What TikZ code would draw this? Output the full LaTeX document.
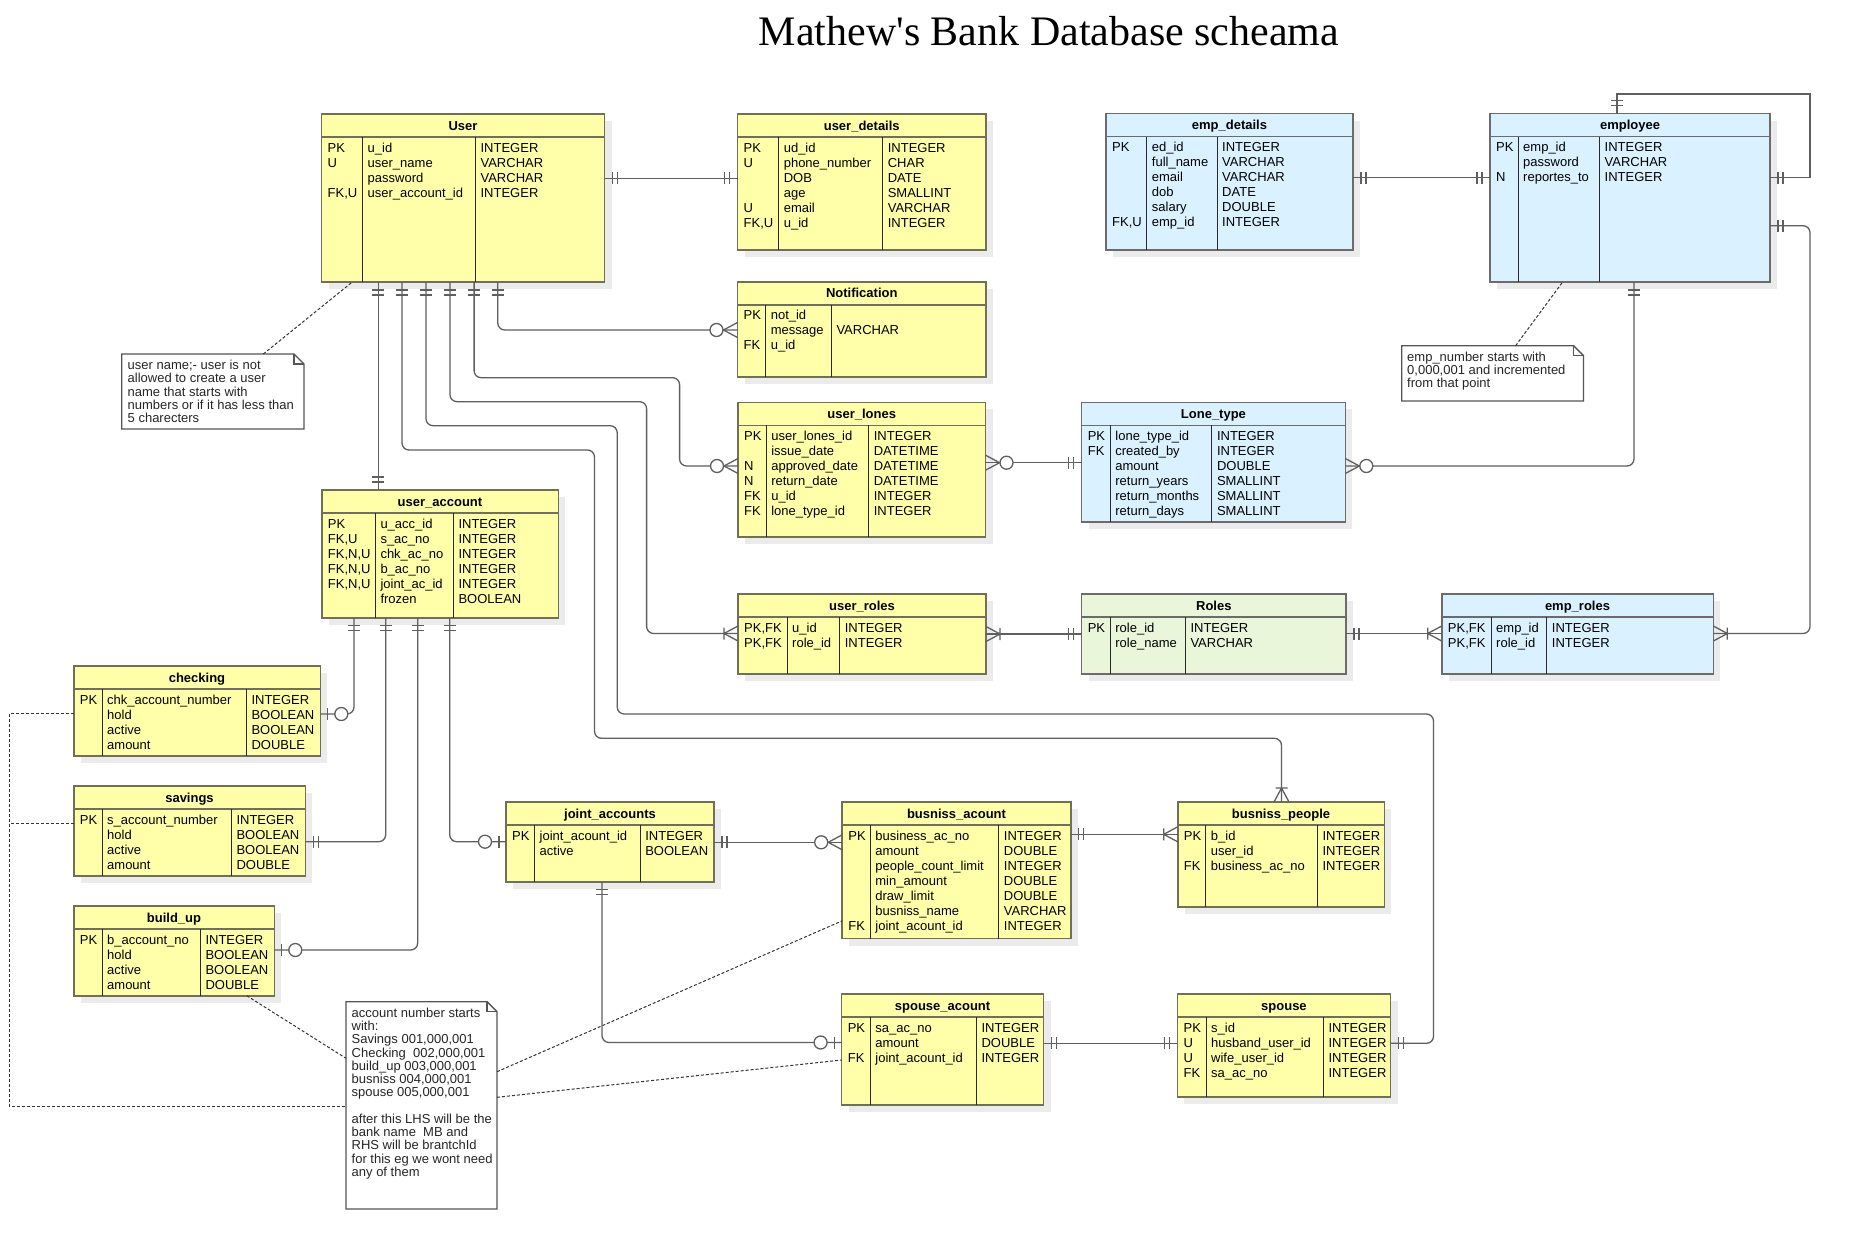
\documentclass[tikz,border=0pt]{standalone}
\usepackage{fontspec}
\setmainfont{Liberation Sans}
\newfontfamily\titlefont{Liberation Serif}
\usetikzlibrary{calc}
\definecolor{yfill}{HTML}{FFFFAA}
\definecolor{ybord}{HTML}{707058}
\definecolor{bfill}{HTML}{DAF2FF}
\definecolor{bbord}{HTML}{6B6B6B}
\definecolor{gfill}{HTML}{E9F6DA}
\definecolor{gbord}{HTML}{6B6B6B}
\definecolor{linec}{HTML}{5F5F5F}
\definecolor{divc}{HTML}{2A2A2A}
\definecolor{shadowc}{HTML}{EBEBEB}
\definecolor{notec}{HTML}{555555}

\newcommand\ertable[9]{%
  \fill[shadowc] (#3+7,#4+7) rectangle (#5+7,#6+7);
  \node[#2, tablebox, anchor=north west, minimum width=#5-#3, minimum height=#6-#4] (#1) at (#3,#4) {};
  \draw[#2, fill=none, line width=1.6pt] (#3,#4+23) -- (#5,#4+23);
  \draw[divline] (#7,#4+23) -- (#7,#6) (#8,#4+23) -- (#8,#6);
  \node[headtext, anchor=base] (#1-h) at ({(#3+#5)/2},#4+16.2) {#9};
}
\newcommand\ercols[8]{%
  \node[coltext] (#1-c1) at (#2+6,#3+27.5) {\begin{tabular}{@{}l@{}}#6\end{tabular}};
  \node[coltext] (#1-c2) at (#4+5,#3+27.5) {\begin{tabular}{@{}l@{}}#7\end{tabular}};
  \node[coltext] (#1-c3) at (#5+5,#3+27.5) {\begin{tabular}{@{}l@{}}#8\end{tabular}};
}
\newcommand\mOne[2]{\begin{scope}[shift={(#1)},rotate=#2]\draw[conn] (8,-6)--(8,6) (13,-6)--(13,6);\end{scope}}
\newcommand\oMany[2]{\begin{scope}[shift={(#1)},rotate=#2]\draw[conn] (0,-7.5)--(14,0)--(0,7.5) (14,-6)--(14,6);\end{scope}}
\newcommand\zMany[2]{\begin{scope}[shift={(#1)},rotate=#2]\draw[conn] (0,-7.5)--(14,0)--(0,7.5);\draw[conn,fill=white] (21,0) circle[radius=6.5];\end{scope}}
\newcommand\zOne[2]{\begin{scope}[shift={(#1)},rotate=#2]\draw[conn] (7,-6)--(7,6);\draw[conn,fill=white] (21,0) circle[radius=6.5];\end{scope}}

\begin{document}
\begin{tikzpicture}[x=1pt,y=-1pt,
  ybox/.style={fill=yfill,draw=ybord},
  bbox/.style={fill=bfill,draw=bbord},
  gbox/.style={fill=gfill,draw=gbord},
  tablebox/.style={line width=1.6pt,inner sep=0pt,outer sep=0pt},
  divline/.style={draw=divc,line width=1pt},
  headtext/.style={inner sep=0pt,font=\bfseries\fontsize{13}{15}\selectfont},
  coltext/.style={anchor=north west,inner sep=0pt,font=\fontsize{13}{15}\selectfont},
  conn/.style={draw=linec,line width=1.3pt},
  dashc/.style={draw=black!80,line width=1pt,dash pattern=on 3pt off 2pt},
  notebox/.style={anchor=north west,inner sep=0pt,outer sep=0pt},
  noteline/.style={draw=notec,line width=1.4pt,fill=white},
  notetext/.style={anchor=north west,inner sep=0pt,font=\fontsize{13}{13}\selectfont,text=black!85}]
\useasboundingbox (0,0) rectangle (1851,1250);
\fill[white] (0,0) rectangle (1851,1250);

\node[anchor=base,inner sep=0pt,font=\titlefont\fontsize{42}{48}\selectfont] (title) at (1049,45) {Mathew\textquotesingle s Bank Database scheama};

% ---------------- tables ----------------
\ertable{User}{ybox}{321.5}{114}{604.5}{282}{362.5}{475.4}{User}
\ercols{User}{321.5}{114}{362.5}{475.4}{PK\\U\\\\FK,U}{u\_id\\user\_name\\password\\user\_account\_id}{INTEGER\\VARCHAR\\VARCHAR\\INTEGER}

\ertable{ud}{ybox}{737.5}{114}{986}{250}{778.6}{882.6}{user\_details}
\ercols{ud}{737.5}{114}{778.6}{882.6}{PK\\U\\\\\\U\\FK,U}{ud\_id\\phone\_number\\DOB\\age\\email\\u\_id}{INTEGER\\CHAR\\DATE\\SMALLINT\\VARCHAR\\INTEGER}

\ertable{notif}{ybox}{737.5}{281.7}{986}{376.7}{765.6}{831.3}{Notification}
\ercols{notif}{737.5}{281.7}{765.6}{831.3}{PK\\\\FK}{not\_id\\message\\u\_id}{\\VARCHAR}

\ertable{ed}{bbox}{1106}{113.5}{1353}{250}{1146.7}{1217}{emp\_details}
\ercols{ed}{1106}{113.5}{1146.7}{1217}{PK\\\\\\\\\\FK,U}{ed\_id\\full\_name\\email\\dob\\salary\\emp\_id}{INTEGER\\VARCHAR\\VARCHAR\\DATE\\DOUBLE\\INTEGER}

\ertable{emp}{bbox}{1490}{113.5}{1770}{282}{1518}{1599.5}{employee}
\ercols{emp}{1490}{113.5}{1518}{1599.5}{PK\\\\N}{emp\_id\\password\\reportes\_to}{INTEGER\\VARCHAR\\INTEGER}

\ertable{ul}{ybox}{738}{402.3}{985.5}{536.7}{766.1}{868.6}{user\_lones}
\ercols{ul}{738}{402.3}{766.1}{868.6}{PK\\\\N\\N\\FK\\FK}{user\_lones\_id\\issue\_date\\approved\_date\\return\_date\\u\_id\\lone\_type\_id}{INTEGER\\DATETIME\\DATETIME\\DATETIME\\INTEGER\\INTEGER}

\ertable{lt}{bbox}{1081.6}{402.3}{1345.3}{522}{1110.2}{1211.8}{Lone\_type}
\ercols{lt}{1081.6}{402.3}{1110.2}{1211.8}{PK\\FK}{lone\_type\_id\\created\_by\\amount\\return\_years\\return\_months\\return\_days}{INTEGER\\INTEGER\\DOUBLE\\SMALLINT\\SMALLINT\\SMALLINT}

\ertable{ua}{ybox}{321.7}{490}{558.3}{617.7}{375.3}{453.3}{user\_account}
\ercols{ua}{321.7}{490}{375.3}{453.3}{PK\\FK,U\\FK,N,U\\FK,N,U\\FK,N,U}{u\_acc\_id\\s\_ac\_no\\chk\_ac\_no\\b\_ac\_no\\joint\_ac\_id\\frozen}{INTEGER\\INTEGER\\INTEGER\\INTEGER\\INTEGER\\BOOLEAN}

\ertable{ur}{ybox}{738}{594}{986}{674}{787}{839.6}{user\_roles}
\ercols{ur}{738}{594}{787}{839.6}{PK,FK\\PK,FK}{u\_id\\role\_id}{INTEGER\\INTEGER}

\ertable{ro}{gbox}{1081.6}{594}{1346}{674}{1110.2}{1185.3}{Roles}
\ercols{ro}{1081.6}{594}{1110.2}{1185.3}{PK}{role\_id\\role\_name}{INTEGER\\VARCHAR}

\ertable{er}{bbox}{1441.7}{594}{1713.3}{674}{1491}{1546.7}{emp\_roles}
\ercols{er}{1441.7}{594}{1491}{1546.7}{PK,FK\\PK,FK}{emp\_id\\role\_id}{INTEGER\\INTEGER}

\ertable{chk}{ybox}{73.7}{666}{320.3}{756}{102}{246.3}{checking}
\ercols{chk}{73.7}{666}{102}{246.3}{PK}{chk\_account\_number\\hold\\active\\amount}{INTEGER\\BOOLEAN\\BOOLEAN\\DOUBLE}

\ertable{sav}{ybox}{73.7}{786}{305.3}{876}{102}{231.3}{savings}
\ercols{sav}{73.7}{786}{102}{231.3}{PK}{s\_account\_number\\hold\\active\\amount}{INTEGER\\BOOLEAN\\BOOLEAN\\DOUBLE}

\ertable{bu}{ybox}{73.7}{906}{274.3}{995.7}{102}{200.3}{build\_up}
\ercols{bu}{73.7}{906}{102}{200.3}{PK}{b\_account\_no\\hold\\active\\amount}{INTEGER\\BOOLEAN\\BOOLEAN\\DOUBLE}

\ertable{ja}{ybox}{506}{802}{714}{881.7}{534.5}{640.1}{joint\_accounts}
\ercols{ja}{506}{802}{534.5}{640.1}{PK}{joint\_acount\_id\\active}{INTEGER\\BOOLEAN}

\ertable{ba}{ybox}{842.2}{802}{1070.8}{938.5}{870.2}{998.7}{busniss\_acount}
\ercols{ba}{842.2}{802}{870.2}{998.7}{PK\\\\\\\\\\\\FK}{business\_ac\_no\\amount\\people\_count\_limit\\min\_amount\\draw\_limit\\busniss\_name\\joint\_acount\_id}{INTEGER\\DOUBLE\\INTEGER\\DOUBLE\\DOUBLE\\VARCHAR\\INTEGER}

\ertable{bp}{ybox}{1177.7}{802}{1384.3}{906.7}{1205.7}{1317.3}{busniss\_people}
\ercols{bp}{1177.7}{802}{1205.7}{1317.3}{PK\\\\FK}{b\_id\\user\_id\\business\_ac\_no}{INTEGER\\INTEGER\\INTEGER}

\ertable{sa}{ybox}{841.6}{994}{1043.5}{1105}{870.2}{976.3}{spouse\_acount}
\ercols{sa}{841.6}{994}{870.2}{976.3}{PK\\\\FK}{sa\_ac\_no\\amount\\joint\_acount\_id}{INTEGER\\DOUBLE\\INTEGER}

\ertable{sp}{ybox}{1177.4}{994}{1390.5}{1096.7}{1206}{1323.4}{spouse}
\ercols{sp}{1177.4}{994}{1206}{1323.4}{PK\\U\\U\\FK}{s\_id\\husband\_user\_id\\wife\_user\_id\\sa\_ac\_no}{INTEGER\\INTEGER\\INTEGER\\INTEGER}

% ---------------- notes ----------------
\node[notebox,minimum width=182.3,minimum height=75] (n1) at (121.7,354) {};
\draw[noteline] (n1.north west) -- ([xshift=-10pt]n1.north east) -- ([yshift=-10pt]n1.north east) -- (n1.south east) -- (n1.south west) -- cycle;
\draw[noteline,fill=none] ([xshift=-10pt]n1.north east) -- ([xshift=-10pt,yshift=-10pt]n1.north east) -- ([yshift=-10pt]n1.north east);
\node[notetext] (n1-t) at (127.5,360) {\begin{tabular}{@{}l@{}}user name;- user is not\\allowed to create a user\\name that starts with\\numbers or if it has less than\\5 charecters\end{tabular}};

\node[notebox,minimum width=181.8,minimum height=55.3] (n2) at (1401.7,345.7) {};
\draw[noteline] (n2.north west) -- ([xshift=-10pt]n2.north east) -- ([yshift=-10pt]n2.north east) -- (n2.south east) -- (n2.south west) -- cycle;
\draw[noteline,fill=none] ([xshift=-10pt]n2.north east) -- ([xshift=-10pt,yshift=-10pt]n2.north east) -- ([yshift=-10pt]n2.north east);
\node[notetext] (n2-t) at (1407,351.5) {\begin{tabular}{@{}l@{}}emp\_number starts with\\0,000,001 and incremented\\from that point\end{tabular}};

\node[notebox,minimum width=151,minimum height=207.3] (n3) at (346,1001.7) {};
\draw[noteline] (n3.north west) -- ([xshift=-10pt]n3.north east) -- ([yshift=-10pt]n3.north east) -- (n3.south east) -- (n3.south west) -- cycle;
\draw[noteline,fill=none] ([xshift=-10pt]n3.north east) -- ([xshift=-10pt,yshift=-10pt]n3.north east) -- ([yshift=-10pt]n3.north east);
\node[notetext] (n3-t) at (351.5,1007.5) {\begin{tabular}{@{}l@{}}account number starts\\with:\\Savings 001,000,001\\Checking\ \ 002,000,001\\build\_up 003,000,001\\busniss 004,000,001\\spouse 005,000,001\\ \\after this LHS will be the\\bank name\ \ MB and\\RHS will be brantchId\\for this eg we wont need\\any of them\end{tabular}};

% ---------------- dashed note links ----------------
\draw[dashc] (n1.north -| 263.3,0) -- (User.south -| 352.3,0);
\draw[dashc] (n2.north -| 1515.6,0) -- (emp.south -| 1562.6,0);
\draw[dashc] (chk.west |- 0,713) -- (9.3,713) -- (9.3,1106) -- (n3.west |- 0,1106);
\draw[dashc] (sav.west |- 0,823.3) -- (9.3,823.3);
\draw[dashc] (bu.south -| 246.8,0) -- (n3.west |- 0,1058.3);
\draw[dashc] (n3.east |- 0,1071.7) -- (ba.west |- 0,920.8);
\draw[dashc] (n3.east |- 0,1097.3) -- (sa.west |- 0,1060);

% ---------------- relationships ----------------
% User - user_details
\coordinate (c1a) at (User.east |- 0,178.3);
\coordinate (c1b) at (ud.west |- 0,178.3);
\draw[conn] (c1a) -- (c1b);
\mOne{c1a}{0} \mOne{c1b}{180}
% User - Notification
\coordinate (c2a) at (User.south -| 497.8,0);
\coordinate (c2b) at (notif.west |- 0,330);
\draw[conn,rounded corners=7pt] (c2a) |- (c2b);
\mOne{c2a}{-90} \zMany{c2b}{180}
% User - user_lones
\coordinate (c3a) at (User.south -| 474.1,0);
\coordinate (c3b) at (ul.west |- 0,466);
\draw[conn,rounded corners=7pt] (c3a) |- (679.6,377.7) |- (c3b);
\mOne{c3a}{-90} \zMany{c3b}{180}
% User - user_roles
\coordinate (c4a) at (User.south -| 450,0);
\coordinate (c4b) at (ur.west |- 0,633.5);
\draw[conn,rounded corners=7pt] (c4a) |- (646.6,401.7) |- (c4b);
\mOne{c4a}{-90} \oMany{c4b}{180}
% User - spouse
\coordinate (c5a) at (User.south -| 426,0);
\coordinate (c5b) at (sp.east |- 0,1043.3);
\draw[conn,rounded corners=7pt] (c5a) |- (617.2,425.7) |- (1433.5,714) |- (c5b);
\mOne{c5a}{-90} \mOne{c5b}{0}
% User - busniss_people
\coordinate (c6a) at (User.south -| 402,0);
\coordinate (c6b) at (bp.north -| 1281.5,0);
\draw[conn,rounded corners=7pt] (c6a) |- (594.5,450) |- (1281.5,738.3) -- (c6b);
\mOne{c6a}{-90} \oMany{c6b}{90}
% User - user_account
\coordinate (c7a) at (User.south -| 378.2,0);
\coordinate (c7b) at (ua.north -| 378.2,0);
\draw[conn] (c7a) -- (c7b);
\mOne{c7a}{-90} \mOne{c7b}{90}
% emp_details - employee
\coordinate (c8a) at (ed.east |- 0,177.7);
\coordinate (c8b) at (emp.west |- 0,177.7);
\draw[conn] (c8a) -- (c8b);
\mOne{c8a}{0} \mOne{c8b}{180}
% employee self reference
\coordinate (c9a) at (emp.north -| 1617,0);
\coordinate (c9b) at (emp.east |- 0,177.7);
\draw[conn] (c9a) |- (1810,94) |- (c9b);
\mOne{c9a}{90} \mOne{c9b}{0}
% employee - emp_roles
\coordinate (c10a) at (emp.east |- 0,225.7);
\coordinate (c10b) at (er.east |- 0,633.5);
\draw[conn,rounded corners=7pt] (c10a) -- (1810,225.7) -- (1810,633.5) -- (c10b);
\mOne{c10a}{0} \oMany{c10b}{0}
% employee - Lone_type
\coordinate (c11a) at (emp.south -| 1634,0);
\coordinate (c11b) at (lt.east |- 0,466);
\draw[conn,rounded corners=7pt] (c11a) |- (c11b);
\mOne{c11a}{-90} \zMany{c11b}{0}
% user_lones - Lone_type
\coordinate (c12a) at (ul.east |- 0,462.7);
\coordinate (c12b) at (lt.west |- 0,462.7);
\draw[conn] (c12a) -- (c12b);
\zMany{c12a}{0} \mOne{c12b}{180}
% user_roles - Roles
\coordinate (c13a) at (ur.east |- 0,634);
\coordinate (c13b) at (ro.west |- 0,634);
\draw[conn] (c13a) -- (c13b);
\oMany{c13a}{0} \mOne{c13b}{180}
% Roles - emp_roles
\coordinate (c14a) at (ro.east |- 0,633.5);
\coordinate (c14b) at (er.west |- 0,633.5);
\draw[conn] (c14a) -- (c14b);
\mOne{c14a}{0} \oMany{c14b}{180}
% user_account - checking
\coordinate (c15a) at (ua.south -| 354,0);
\coordinate (c15b) at (chk.east |- 0,714);
\draw[conn,rounded corners=7pt] (c15a) |- (c15b);
\mOne{c15a}{-90} \zOne{c15b}{0}
% user_account - savings
\coordinate (c16a) at (ua.south -| 385.7,0);
\coordinate (c16b) at (sav.east |- 0,841.7);
\draw[conn,rounded corners=7pt] (c16a) |- (c16b);
\mOne{c16a}{-90} \mOne{c16b}{0}
% user_account - build_up
\coordinate (c17a) at (ua.south -| 417.7,0);
\coordinate (c17b) at (bu.east |- 0,950);
\draw[conn,rounded corners=7pt] (c17a) |- (c17b);
\mOne{c17a}{-90} \zOne{c17b}{0}
% user_account - joint_accounts
\coordinate (c18a) at (ua.south -| 449.7,0);
\coordinate (c18b) at (ja.west |- 0,841.7);
\draw[conn,rounded corners=7pt] (c18a) |- (c18b);
\mOne{c18a}{-90} \zOne{c18b}{180}
% joint_accounts - busniss_acount
\coordinate (c19a) at (ja.east |- 0,842.3);
\coordinate (c19b) at (ba.west |- 0,842.3);
\draw[conn] (c19a) -- (c19b);
\mOne{c19a}{0} \zMany{c19b}{180}
% busniss_acount - busniss_people
\coordinate (c20a) at (ba.east |- 0,834.3);
\coordinate (c20b) at (bp.west |- 0,834.3);
\draw[conn] (c20a) -- (c20b);
\mOne{c20a}{0} \oMany{c20b}{180}
% joint_accounts - spouse_acount
\coordinate (c21a) at (ja.south -| 602,0);
\coordinate (c21b) at (sa.west |- 0,1042.5);
\draw[conn,rounded corners=7pt] (c21a) |- (c21b);
\mOne{c21a}{-90} \zOne{c21b}{180}
% spouse_acount - spouse
\coordinate (c22a) at (sa.east |- 0,1043.3);
\coordinate (c22b) at (sp.west |- 0,1043.3);
\draw[conn] (c22a) -- (c22b);
\mOne{c22a}{0} \mOne{c22b}{180}
\end{tikzpicture}
\end{document}
